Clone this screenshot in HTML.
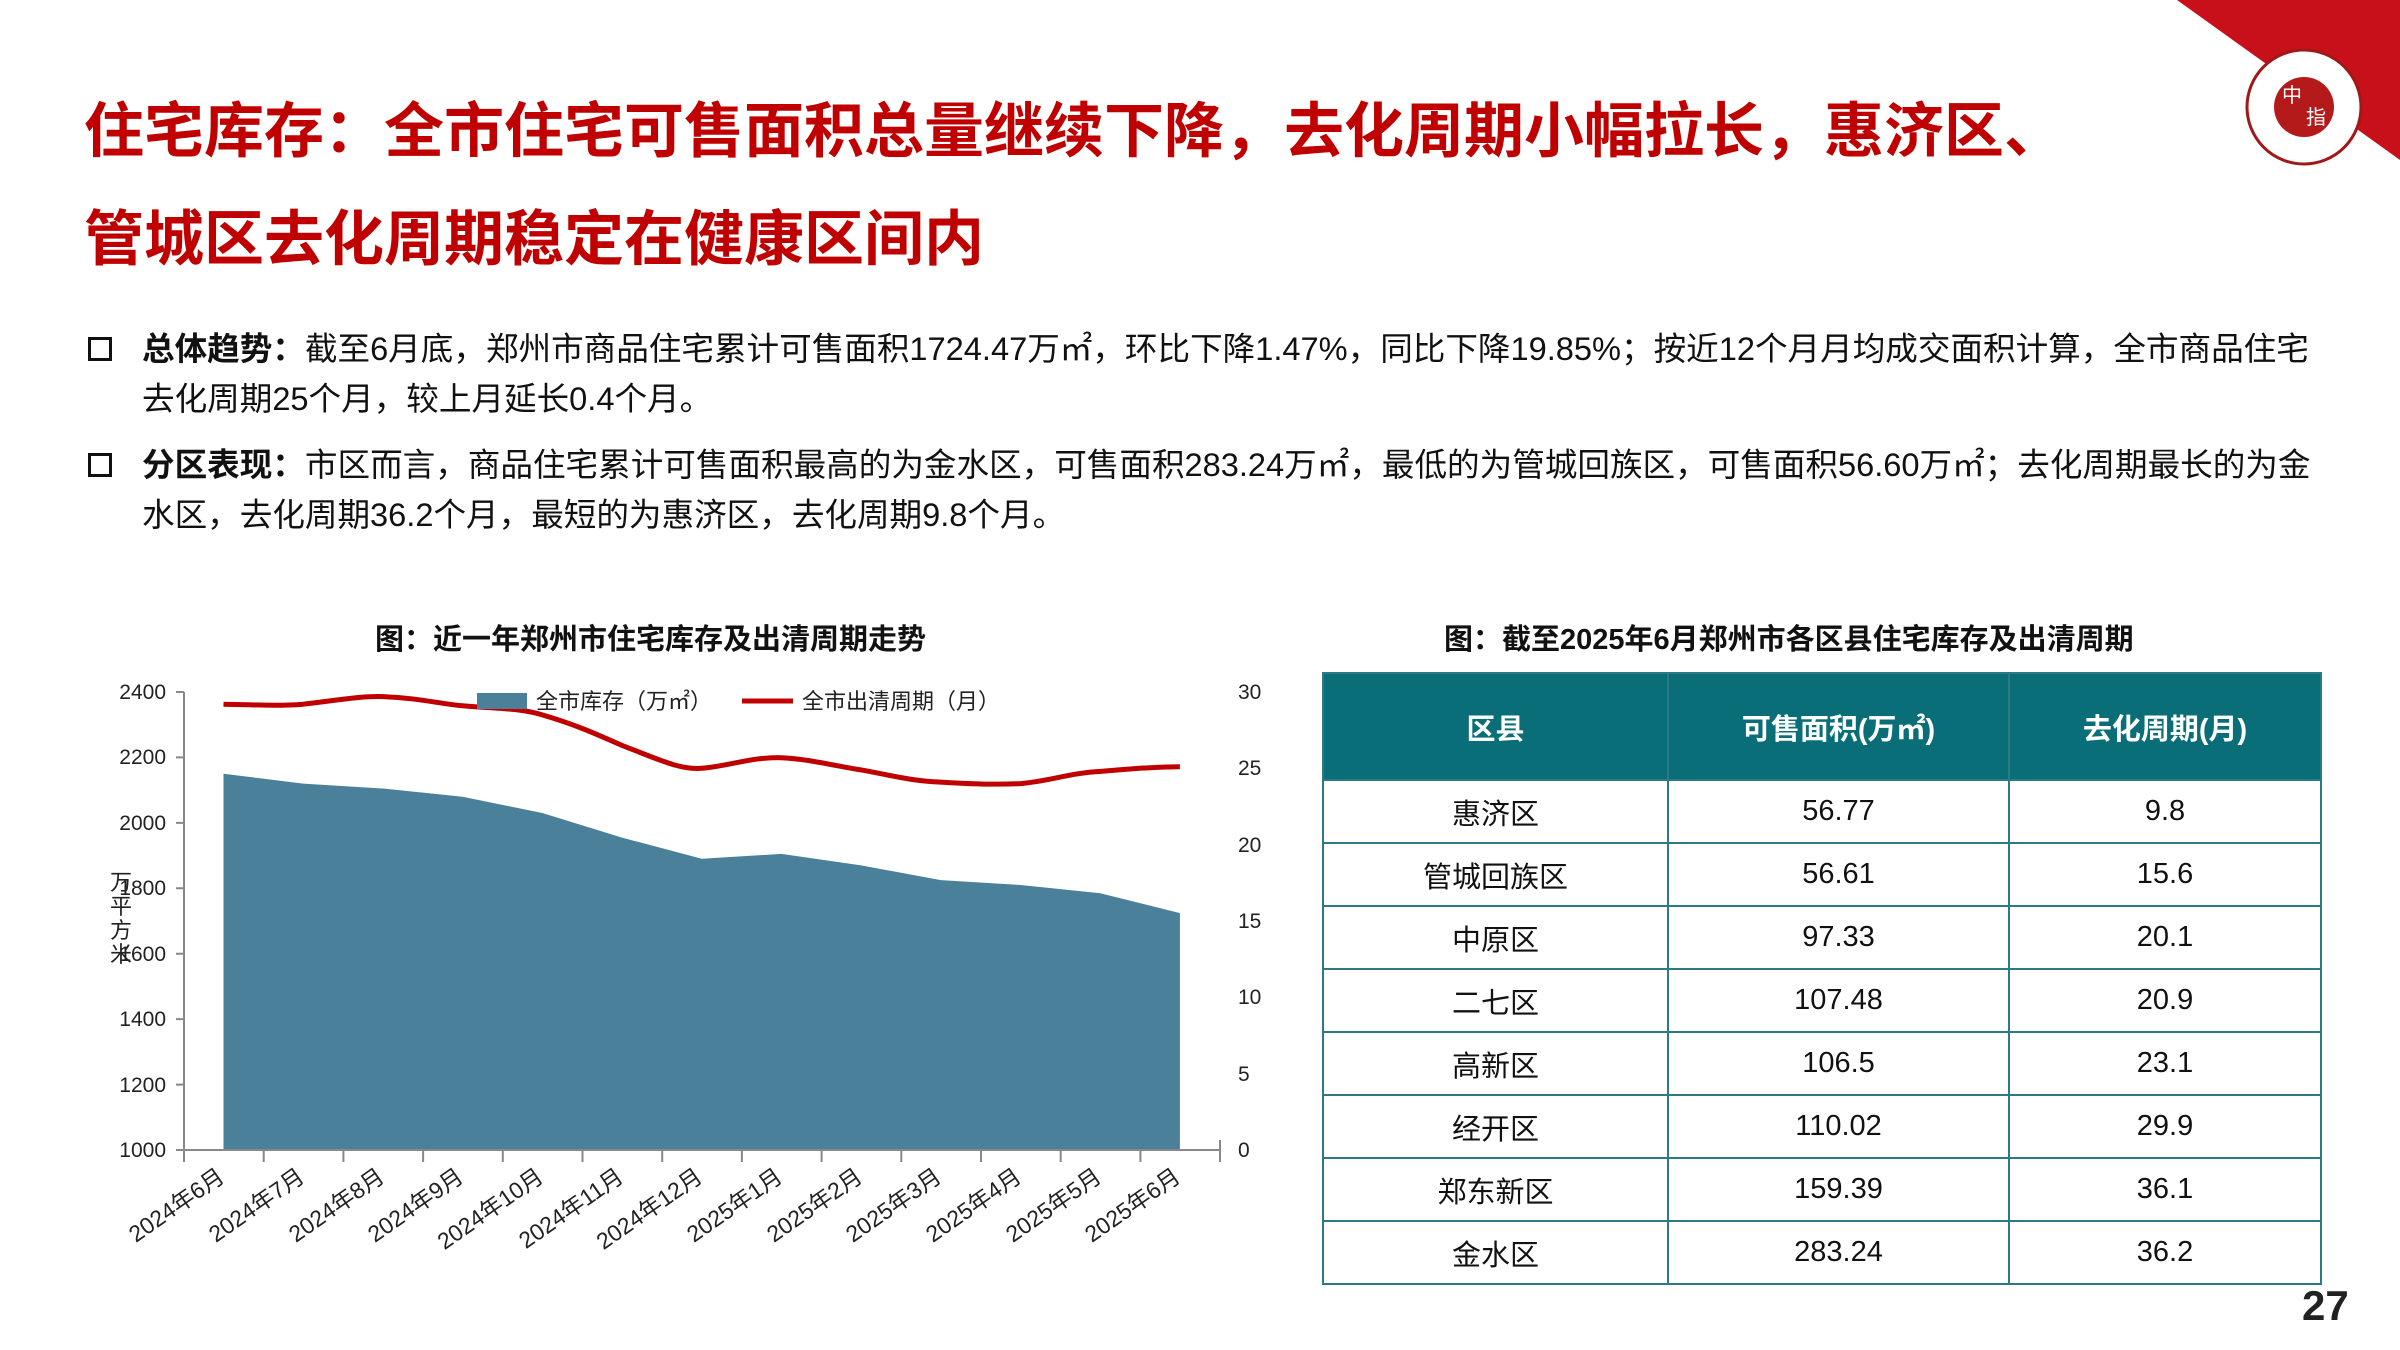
<!DOCTYPE html>
<html><head><meta charset="utf-8"><style>
body{margin:0;width:2400px;height:1350px;background:#fff;position:relative;overflow:hidden;font-family:"Liberation Sans","Noto Sans CJK SC",sans-serif;}
.t{position:absolute;left:84px;color:#c00000;font-weight:bold;font-size:60px;line-height:1;white-space:nowrap;}
.b{position:absolute;left:142px;font-size:32.6px;color:#111;line-height:50px;width:2195px;}
.sq{position:absolute;left:88px;width:18px;height:18px;border:3px solid #111;}
.ct{position:absolute;font-size:29px;font-weight:bold;color:#111;white-space:nowrap;}
table{position:absolute;left:1322px;top:672px;width:1000px;border-collapse:collapse;font-size:29px;color:#111;}
td,th{border:2px solid #2b7a86;text-align:center;padding:0;height:61px;}
th{background:#0a6e78;color:#fff;height:105px;font-weight:bold;}
</style></head><body>
<svg style="position:absolute;left:0;top:0" width="2400" height="1350">
<polygon points="2177,0 2400,0 2400,160" fill="#c8101a"/>
<circle cx="2304" cy="107" r="57" fill="#fff" stroke="#a01818" stroke-width="3"/>
<circle cx="2304" cy="107" r="30" fill="#b51a1a"/>
<text x="2292" y="102" font-size="20" fill="#fff" text-anchor="middle" font-family="Noto Sans CJK SC">中</text>
<text x="2316" y="124" font-size="20" fill="#fff" text-anchor="middle" font-family="Noto Sans CJK SC">指</text>
</svg>
<div class="t" style="top:102px">住宅库存：全市住宅可售面积总量继续下降，去化周期小幅拉长，惠济区、</div>
<div class="t" style="top:210px">管城区去化周期稳定在健康区间内</div>
<div class="sq" style="top:337px"></div>
<div class="b" style="top:324px"><b>总体趋势：</b>截至6月底，郑州市商品住宅累计可售面积1724.47万㎡，环比下降1.47%，同比下降19.85%；按近12个月月均成交面积计算，全市商品住宅去化周期25个月，较上月延长0.4个月。</div>
<div class="sq" style="top:453px"></div>
<div class="b" style="top:440px"><b>分区表现：</b>市区而言，商品住宅累计可售面积最高的为金水区，可售面积283.24万㎡，最低的为管城回族区，可售面积56.60万㎡；去化周期最长的为金水区，去化周期36.2个月，最短的为惠济区，去化周期9.8个月。</div>
<div class="ct" style="left:375px;top:616px">图：近一年郑州市住宅库存及出清周期走势</div>
<div class="ct" style="left:1444px;top:616px">图：截至2025年6月郑州市各区县住宅库存及出清周期</div>
<svg style="position:absolute;left:0;top:0" width="1320" height="1350" font-family="Liberation Sans,Noto Sans CJK SC,sans-serif">
<polygon fill="#4a8099" points="223.5,1150 223.5,773.8 303.2,783.6 382.9,788.5 462.6,796.7 542.3,813 622,837.6 701.7,858.8 781.4,853.9 861.1,865.4 940.8,880.1 1020.5,885 1100.2,893.2 1179.9,913.1 1179.9,1150"/>
<path d="M223.5,704.2 C260,705 280,706 303.2,704.2 C340,700 360,696 382.9,696.6 C420,698 440,704 462.6,705.8 C500,709 520,708 542.3,714.9 C580,726 600,736 622,745.4 C660,760 680,770 701.7,768.3 C730,766 750,757 781.4,757.7 C810,759 840,767 861.1,769.9 C890,775 910,781 940.8,782.1 C970,784 995,785 1020.5,783.6 C1050,781 1070,773 1100.2,771.4 C1130,769 1150,767 1179.9,766.8" fill="none" stroke="#c00000" stroke-width="5"/>
<g stroke="#888" stroke-width="2" fill="none">
<line x1="184" y1="692" x2="184" y2="1150"/><line x1="184" y1="1150" x2="1220" y2="1150"/><line x1="1220" y1="1150" x2="1220" y2="1140"/>
<path d="M176,692H184M176,757.4H184M176,822.9H184M176,888.3H184M176,953.7H184M176,1019.1H184M176,1084.6H184M176,1150H184"/>
<path d="M263.7,1150v12M343.4,1150v12M423.1,1150v12M502.8,1150v12M582.5,1150v12M662.2,1150v12M741.9,1150v12M821.6,1150v12M901.3,1150v12M981,1150v12M1060.7,1150v12M1140.4,1150v12M184,1150v12M1220,1150v12"/>
</g>
<g font-size="21" fill="#222" text-anchor="end">
<text x="166" y="699">2400</text><text x="166" y="764">2200</text><text x="166" y="830">2000</text><text x="166" y="895">1800</text><text x="166" y="961">1600</text><text x="166" y="1026">1400</text><text x="166" y="1092">1200</text><text x="166" y="1157">1000</text>
</g>
<g font-size="21" fill="#222">
<text x="1238" y="699">30</text><text x="1238" y="775">25</text><text x="1238" y="852">20</text><text x="1238" y="928">15</text><text x="1238" y="1004">10</text><text x="1238" y="1081">5</text><text x="1238" y="1157">0</text>
</g>
<g font-size="22" fill="#222" text-anchor="middle"><text x="121" y="890">万</text><text x="121" y="914">平</text><text x="121" y="938">方</text><text x="121" y="962">米</text></g>
<rect x="477" y="693" width="50" height="16" fill="#4a8099"/>
<text x="536" y="709" font-size="22" fill="#222">全市库存（万㎡）</text>
<line x1="742" y1="701" x2="793" y2="701" stroke="#c00000" stroke-width="5"/>
<text x="802" y="709" font-size="22" fill="#222">全市出清周期（月）</text>
<g font-size="23" fill="#222" text-anchor="end">
<text transform="translate(226,1180) rotate(-35)">2024年6月</text>
<text transform="translate(306,1180) rotate(-35)">2024年7月</text>
<text transform="translate(386,1180) rotate(-35)">2024年8月</text>
<text transform="translate(465,1180) rotate(-35)">2024年9月</text>
<text transform="translate(545,1180) rotate(-35)">2024年10月</text>
<text transform="translate(625,1180) rotate(-35)">2024年11月</text>
<text transform="translate(704,1180) rotate(-35)">2024年12月</text>
<text transform="translate(784,1180) rotate(-35)">2025年1月</text>
<text transform="translate(864,1180) rotate(-35)">2025年2月</text>
<text transform="translate(943,1180) rotate(-35)">2025年3月</text>
<text transform="translate(1023,1180) rotate(-35)">2025年4月</text>
<text transform="translate(1103,1180) rotate(-35)">2025年5月</text>
<text transform="translate(1182,1180) rotate(-35)">2025年6月</text>
</g>
</svg>
<table>
<tr><th style="width:343px">区县</th><th style="width:339px">可售面积(万㎡)</th><th>去化周期(月)</th></tr>
<tr><td>惠济区</td><td>56.77</td><td>9.8</td></tr>
<tr><td>管城回族区</td><td>56.61</td><td>15.6</td></tr>
<tr><td>中原区</td><td>97.33</td><td>20.1</td></tr>
<tr><td>二七区</td><td>107.48</td><td>20.9</td></tr>
<tr><td>高新区</td><td>106.5</td><td>23.1</td></tr>
<tr><td>经开区</td><td>110.02</td><td>29.9</td></tr>
<tr><td>郑东新区</td><td>159.39</td><td>36.1</td></tr>
<tr><td>金水区</td><td>283.24</td><td>36.2</td></tr>
</table>
<div style="position:absolute;left:2302px;top:1282px;font-size:42px;font-weight:bold;color:#222">27</div>
</body></html>
